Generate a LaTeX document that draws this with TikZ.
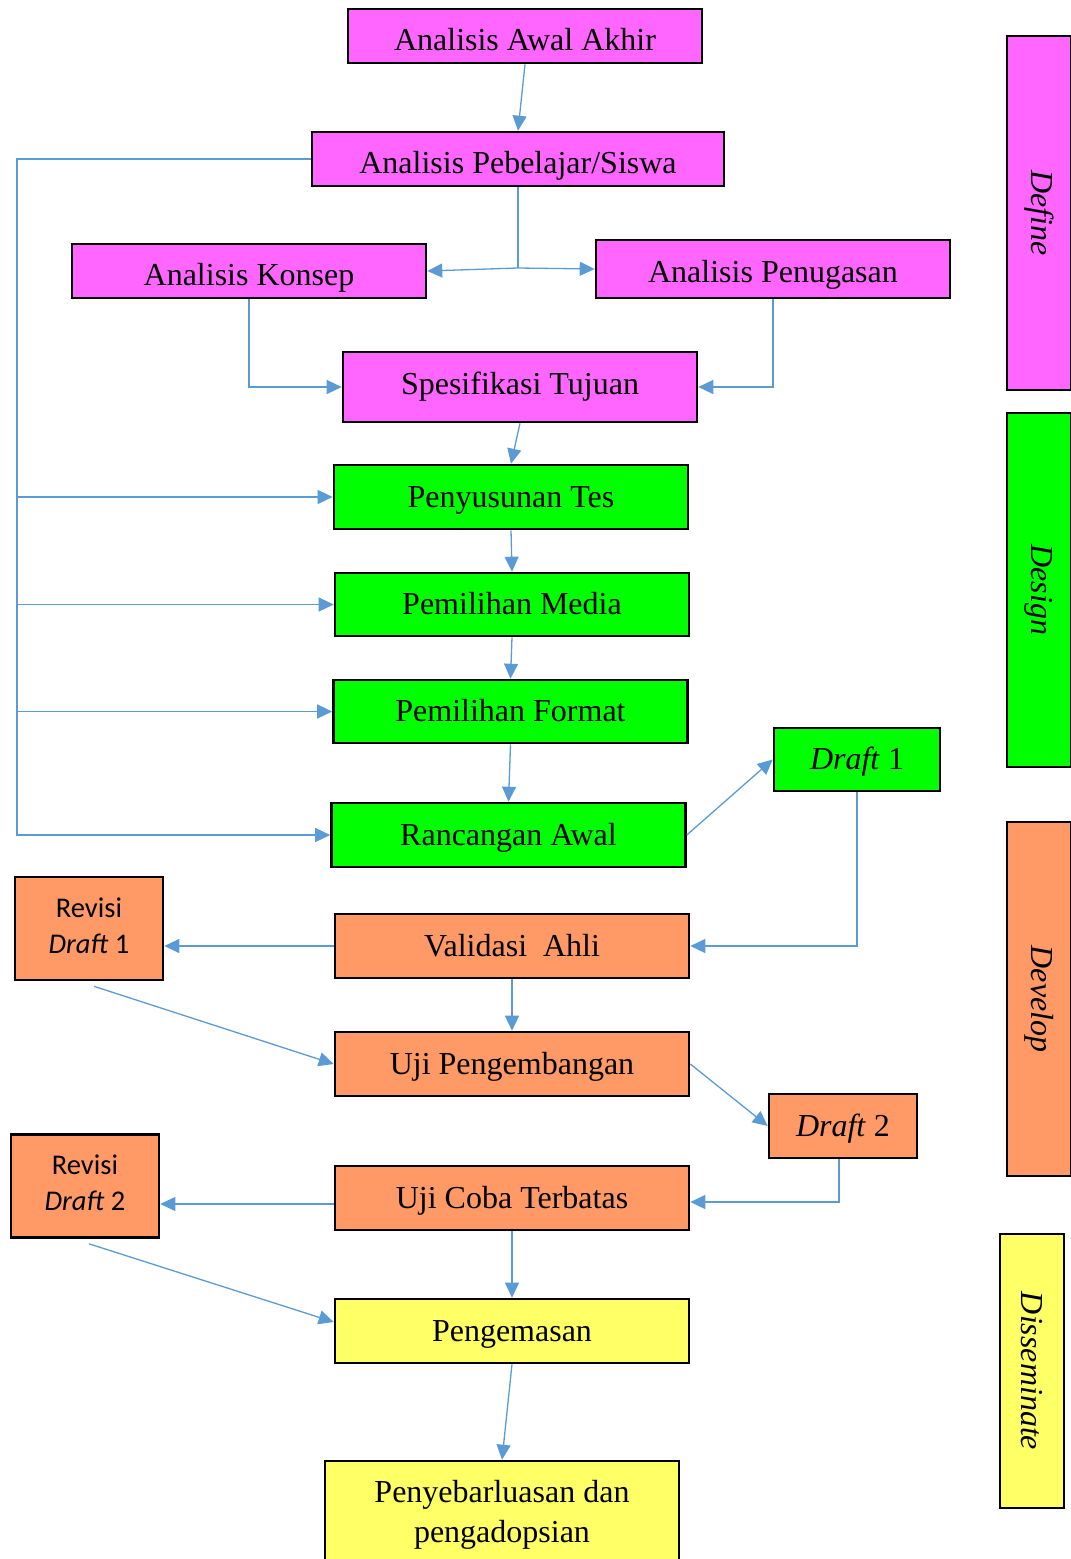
\documentclass[tikz,border=0pt]{standalone}
\usepackage{fontspec}
\setmainfont{Liberation Serif}
\newfontfamily\calib{Carlito}
\usetikzlibrary{arrows.meta}
\definecolor{cmag}{HTML}{FF66FF}
\definecolor{cgrn}{HTML}{00FF00}
\definecolor{corg}{HTML}{FF9966}
\definecolor{cyel}{HTML}{FFFF66}
\definecolor{cblu}{HTML}{5B9BD5}
\tikzset{
  box/.style={draw=black, line width=2.6pt, inner sep=0pt, align=center,
    font=\fontsize{32}{40}\selectfont},
  mainbox/.style={box, minimum width=354pt, minimum height=64pt,
    text height=25pt, text depth=5pt},
  lowtext/.style={text height=31pt, text depth=3pt},
  revbox/.style={box, minimum width=148pt, minimum height=103pt, fill=corg,
    font=\calib\fontsize{28.5}{36}\selectfont, text depth=6pt},
  sidebox/.style={box, minimum width=64pt, minimum height=354pt},
  sidetext/.style={rotate=-90, font=\fontsize{32}{40}\selectfont\itshape},
  conn/.style={draw=cblu, line width=1.3pt},
  arr/.style={conn, -{Triangle[length=15pt,width=14pt]}},
}
\begin{document}
\begin{tikzpicture}[x=1pt,y=-1pt]
\useasboundingbox (0,0) rectangle (1071,1559);
% main flow
\node[mainbox, lowtext, fill=cmag, minimum height=54pt] (aa) at (525,36) {Analisis Awal Akhir};
\node[mainbox, lowtext, fill=cmag, minimum width=412pt, minimum height=54pt] (pb) at (518,159) {Analisis Pebelajar/Siswa};
\node[mainbox, lowtext, fill=cmag, minimum height=54pt] (ak) at (249,271) {Analisis Konsep};
\node[mainbox, fill=cmag, minimum height=58pt, text height=29pt, text depth=3pt] (ap) at (773,269) {Analisis Penugasan};
\node[mainbox, fill=cmag, minimum height=70pt, text height=19pt, text depth=5pt] (st) at (520,387) {Spesifikasi Tujuan};
\node[mainbox, fill=cgrn] (pt) at (511,497) {Penyusunan Tes};
\node[mainbox, fill=cgrn, minimum height=63pt] (pm) at (512,604.5) {Pemilihan Media};
\node[mainbox, fill=cgrn, minimum height=63pt] (pf) at (510.5,711.5) {Pemilihan Format};
\node[mainbox, fill=cgrn, minimum width=166pt, minimum height=63pt] (d1) at (857,759.5) {\textit{Draft} 1};
\node[mainbox, fill=cgrn] (ra) at (508.5,835) {Rancangan Awal};
\node[revbox] (r1) at (89,928.5) {Revisi\\\textit{Draft} 1};
\node[mainbox, fill=corg] (va) at (512,946) {Validasi\ \ Ahli};
\node[mainbox, fill=corg] (up) at (512,1064) {Uji Pengembangan};
\node[mainbox, fill=corg, minimum width=148pt, minimum height=64pt] (d2) at (843,1126) {\textit{Draft} 2};
\node[revbox] (r2) at (85,1186) {Revisi\\\textit{Draft} 2};
\node[mainbox, fill=corg] (uc) at (512,1198) {Uji Coba Terbatas};
\node[mainbox, fill=cyel] (pg) at (512,1331) {Pengemasan};
\node[box, fill=cyel, minimum width=354pt, minimum height=108pt] (ps) at (502,1515) {Penyebarluasan dan\\pengadopsian};
% side phase boxes
\node[sidebox, fill=cmag] (sdef) at (1039,213) {};
\node[sidetext] at (sdef.center) {Define};
\node[sidebox, fill=cgrn] (sdes) at (1039,590) {};
\node[sidetext] at (sdes.center) {Design};
\node[sidebox, fill=corg] (sdev) at (1039,999) {};
\node[sidetext] at (sdev.center) {Develop};
\node[sidebox, fill=cyel, minimum height=274pt] (sdis) at (1032,1371) {};
\node[sidetext] at (sdis.center) {Disseminate};
% connectors
\coordinate (j1) at (518,268);
\coordinate (bus) at (17,159);
\coordinate (r1s) at ([xshift=5pt,yshift=-5pt]r1.south);
\coordinate (r2s) at ([xshift=4pt,yshift=-5pt]r2.south);
\coordinate (d2s) at ([xshift=-4pt]d2.south);
\coordinate (uce) at ([yshift=-4pt]uc.east);
\coordinate (ucw) at ([yshift=-6pt]uc.west);
\coordinate (pgw) at ([yshift=9pt]pg.west);
\draw[arr] (aa.south) -- (pb.north);
\draw[conn] (pb.south) -- (j1);
\draw[arr] (j1) -- (ak.east);
\draw[arr] (j1) -- (ap.west);
\draw[arr] (ak.south) |- (st.west);
\draw[arr] (ap.south) |- (st.east);
\draw[arr] (st.south) -- (pt.north);
\draw[arr] (pt.south) -- (pm.north);
\draw[arr] (pm.south) -- (pf.north);
\draw[arr] (pf.south) -- (ra.north);
\draw[arr] (pb.west) -- (bus) |- (ra.west);
\draw[arr] (bus |- pt.west) -- (pt.west);
\draw[arr] (bus |- pm.west) -- (pm.west);
\draw[arr] (bus |- pf.west) -- (pf.west);
\draw[arr] (ra.east) -- (d1.west);
\draw[arr] (d1.south) |- (va.east);
\draw[arr] (va.west) -- (r1.east |- va.west);
\draw[arr] (va.south) -- (up.north);
\draw[arr] (r1s) -- (up.west);
\draw[arr] (up.east) -- (d2.west);
\draw[arr] (d2s) |- (uce);
\draw[arr] (ucw) -- (r2.east |- ucw);
\draw[arr] (uc.south) -- (pg.north);
\draw[arr] (r2s) -- (pgw);
\draw[arr] (pg.south) -- (ps.north);
\end{tikzpicture}
\end{document}
